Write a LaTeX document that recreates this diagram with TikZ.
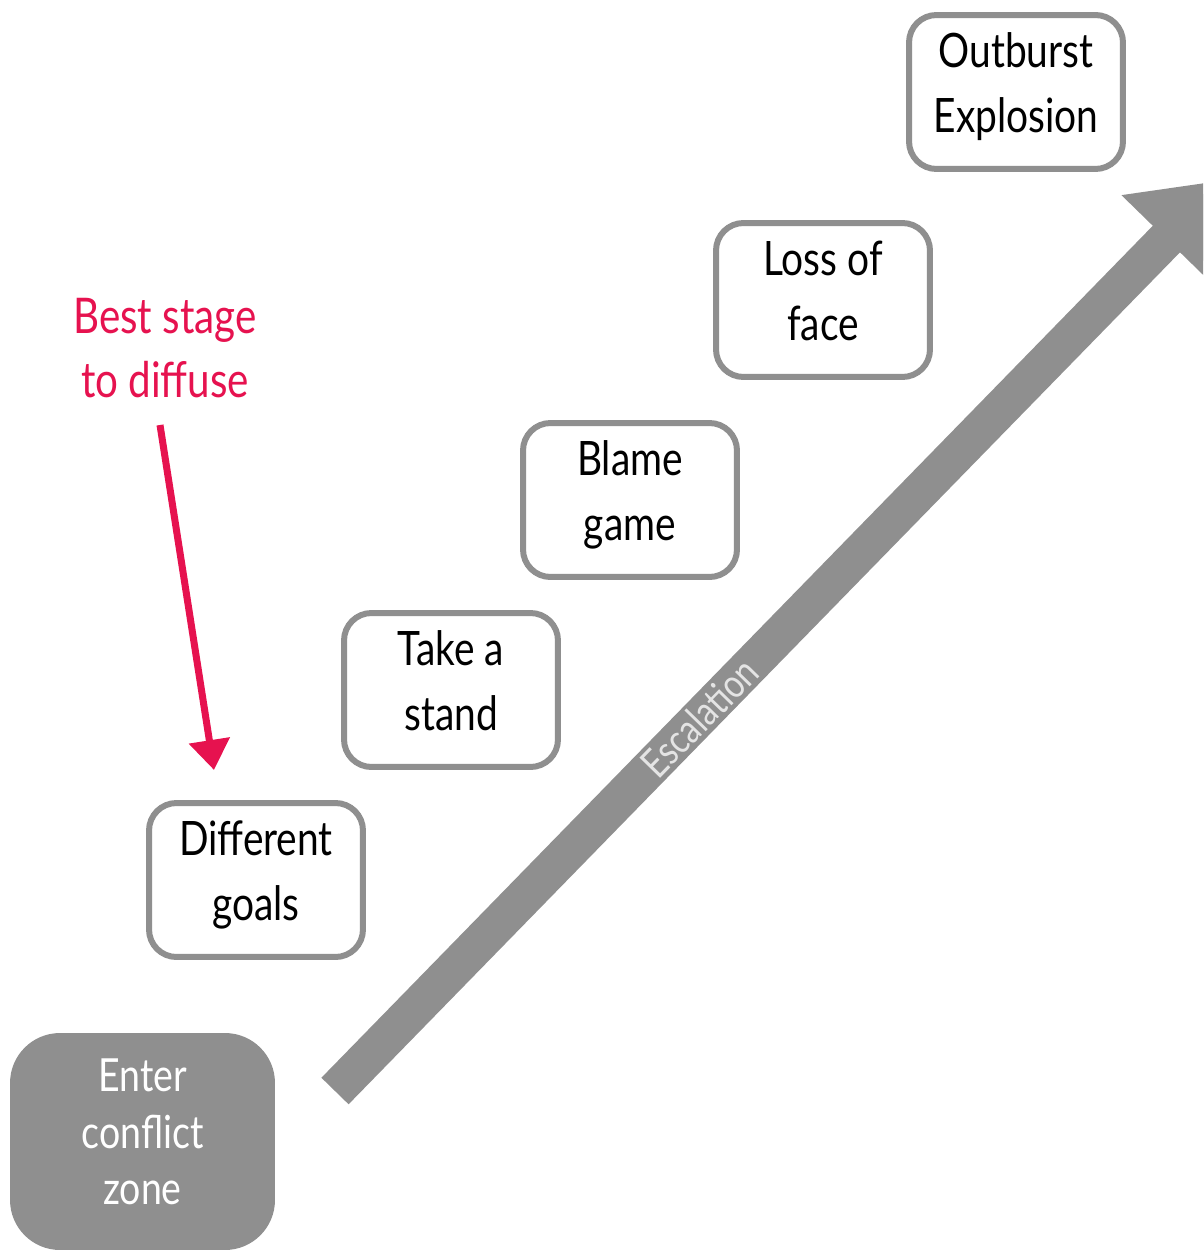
\documentclass[tikz,border=0pt]{standalone}
\usepackage{fontspec}
\setmainfont{Lato}[FakeStretch=0.82]
\usepackage{tikz}
\usetikzlibrary{arrows.meta, positioning}
\usepackage{xcolor}

\definecolor{stagegray}{HTML}{8F8F8F}
\definecolor{diffusepink}{HTML}{E6124F}
\definecolor{escgray}{HTML}{E4E4E4}

\tikzset{
  stage/.style={draw=stagegray, line width=0.12cm, rounded corners=0.55cm, fill=white,
    minimum width=4.28cm, minimum height=3.08cm, align=center, inner sep=0pt,
    text depth=11pt, font=\fontsize{27}{37}\selectfont},
  enterzone/.style={fill=stagegray, rounded corners=1cm, text=white,
    minimum width=5.3cm, minimum height=4.34cm, align=center, inner sep=0pt,
    text depth=11pt, font=\fontsize{26}{32}\selectfont},
  diffuse/.style={text=diffusepink, align=center, inner sep=0pt,
    font=\fontsize{28}{36}\selectfont},
  pinkarrow/.style={draw=diffusepink, line width=0.14cm, -{Triangle[length=0.6cm, width=0.8cm]}},
  escalate/.style={draw=stagegray, line width=0.76cm, -{Triangle[length=1.65cm, width=2.4cm]}}
}

\begin{document}
\begin{tikzpicture}[x=0.02cm, y=-0.02cm]
\useasboundingbox (0,0) rectangle (1203,1250);
\clip (0,0) rectangle (1203,1250);

% escalation arrow
\coordinate (rise) at (335,1091);
\coordinate (peak) at (1224,180);
\draw[escalate] (rise) -- (peak) node[pos=0.41, sloped, text=escgray, font=\fontsize{23}{28}\selectfont]{Escalation};

% stages
\node[enterzone] (enter) at (142.5,1141.5) {Enter\\conflict\\zone};
\node[stage] (goals) at (256,880) {Different\\goals};
\node[stage] (stand) at (451,690) {Take a\\stand};
\node[stage] (blame) at (630,500) {Blame\\game};
\node[stage] (face) at (823,300) {Loss of\\face};
\node[stage] (outburst) at (1016,92) {Outburst\\Explosion};

% hint
\node[diffuse] (best) at (165,348) {Best stage\\to diffuse};
\coordinate (from) at (160,425);
\coordinate (aim) at (214,770);
\draw[pinkarrow] (from) -- (aim);
\end{tikzpicture}
\end{document}
